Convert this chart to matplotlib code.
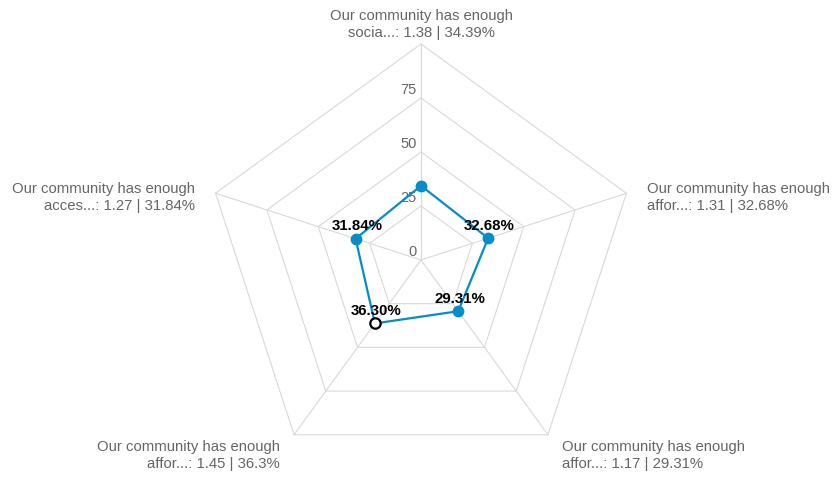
import numpy as np
import matplotlib.pyplot as plt

plt.rcParams['font.family'] = ['Liberation Sans', 'DejaVu Sans']

# categories, clockwise from top
categories = [
    'Our community has enough\nsocia...: 1.38 | 34.39%',
    'Our community has enough\naffor...: 1.31 | 32.68%',
    'Our community has enough\naffor...: 1.17 | 29.31%',
    'Our community has enough\naffor...: 1.45 | 36.3%',
    'Our community has enough\nacces...: 1.27 | 31.84%',
]
values = [34.39, 32.68, 29.31, 36.30, 31.84]
value_labels = ['', '32.68%', '29.31%', '36.30%', '31.84%']
grid_levels = [25, 50, 75, 100]
tick_labels = ['0', '25', '50', '75']

n = len(categories)
theta = np.pi / 2 - np.arange(n) * 2 * np.pi / n

fig = plt.figure(figsize=(8.36, 4.79), dpi=100)
ax = fig.add_axes([0, 0, 1, 1])
scale = 2.16  # px per unit
ax.set_xlim(-421 / scale, (836 - 421) / scale)
ax.set_ylim(-(479 - 260) / scale, 260 / scale)
ax.axis('off')

grid_c = '#d9d9d9'
for lv in grid_levels:
    xs = np.append(lv * np.cos(theta), lv * np.cos(theta[0]))
    ys = np.append(lv * np.sin(theta), lv * np.sin(theta[0]))
    ax.plot(xs, ys, color=grid_c, lw=0.8, zorder=1)
for t in theta:
    ax.plot([0, 100 * np.cos(t)], [0, 100 * np.sin(t)], color=grid_c, lw=0.8, zorder=1)

# tick labels on the top spoke
for lv, tl in zip([0, 25, 50, 75], tick_labels):
    ax.annotate(tl, (0, lv), xytext=(-3, 1), textcoords='offset points',
                ha='right', va='bottom', fontsize=10.5, color='#666666')

# series
vals = np.array(values)
xs = vals * np.cos(theta)
ys = vals * np.sin(theta)
col = '#058DC7'
ax.plot(np.append(xs, xs[0]), np.append(ys, ys[0]), color=col, lw=1.6, zorder=3)
for i in range(n):
    if i == 3:
        ax.plot(xs[i], ys[i], 'o', ms=7.5, mfc='white', mec='black', mew=1.6, zorder=4)
    else:
        ax.plot(xs[i], ys[i], 'o', ms=7.5, color=col, zorder=4)
    if value_labels[i]:
        ax.annotate(value_labels[i], (xs[i], ys[i]), xytext=(1, 4), textcoords='offset points',
                    ha='center', va='bottom', fontsize=10.8, fontweight='bold', color='black', zorder=5)

# category labels
offsets = [(0, 3, 'center', 'bottom'), (15, -3, 'left', 'center'), (10, -4, 'left', 'top'),
           (-10, -4, 'right', 'top'), (-15, -3, 'right', 'center')]
for i, lab in enumerate(categories):
    dx, dy, ha, va = offsets[i]
    ax.annotate(lab, (100 * np.cos(theta[i]), 100 * np.sin(theta[i])), xytext=(dx, dy),
                textcoords='offset points', ha=ha, va=va, fontsize=10.7, color='#666666',
                multialignment=ha if ha != 'center' else 'center', linespacing=1.25)

fig.savefig('out.png', dpi=100)
